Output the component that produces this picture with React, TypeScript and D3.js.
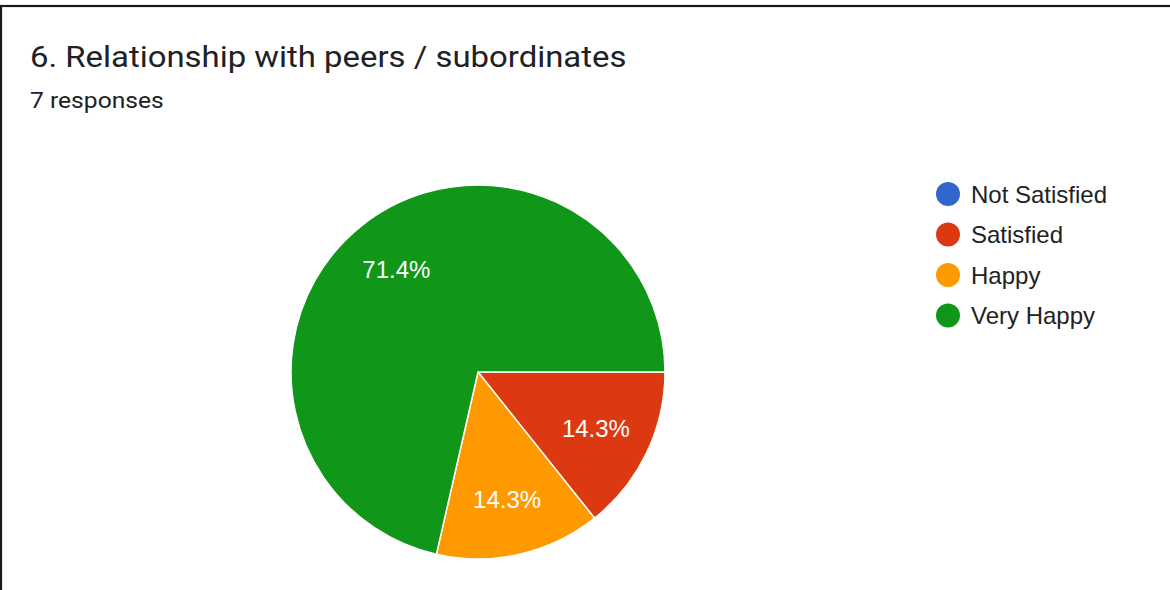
import React from "react";
import * as d3 from "d3";

const categories = ["Not Satisfied", "Satisfied", "Happy", "Very Happy"];
const counts = [0, 1, 1, 5];
const colors = ["#3366cc", "#dc3912", "#ff9900", "#109618"];
const title = "6. Relationship with peers / subordinates";
const subtitle = "7 responses";

const W = 1170;
const H = 590;

export default function App() {
  const cx = 478;
  const cy = 372;
  const r = 187;
  const total = d3.sum(counts);
  const pie = d3
    .pie<number>()
    .sort(null)
    .value((d) => d)
    .startAngle(Math.PI / 2)
    .endAngle(Math.PI / 2 + 2 * Math.PI);
  const arcs = pie(counts);
  const arcGen = d3.arc<d3.PieArcDatum<number>>().innerRadius(0).outerRadius(r);
  const labelArc = d3
    .arc<d3.PieArcDatum<number>>()
    .innerRadius(r * 0.7)
    .outerRadius(r * 0.7);
  const legendY = d3.scaleLinear().domain([0, 1]).range([194, 234.5]);
  const font = "Roboto, 'Noto Sans', Arial, sans-serif";
  const arial = "'Liberation Sans', Arial, sans-serif";

  return (
    <div style={{ position: "absolute", left: 0, top: 0, width: W, height: H }}>
      <svg width={W} height={H} style={{ display: "block" }}>
        <rect x={0} y={0} width={W} height={H} fill="#fff" />
        <rect x={1} y={6} width={W + 20} height={H + 20} fill="none" stroke="#1a1a1a" strokeWidth={2.2} />
        <g transform="translate(30,67) scale(1.135,1)">
          <text x={0} y={0} fontFamily={font} fontSize={29} fill="#202124">
            {title}
          </text>
        </g>
        <g transform="translate(30,108) scale(1.12,1)">
          <text x={0} y={0} fontFamily={font} fontSize={22} fill="#202124">
            {subtitle}
          </text>
        </g>
        <g transform={`translate(${cx},${cy})`}>
          {arcs.map((a, i) =>
            a.value > 0 ? (
              <path key={i} d={arcGen(a) || ""} fill={colors[i]} stroke="#fff" strokeWidth={1.5} />
            ) : null
          )}
          {arcs.map((a, i) => {
            if (a.value <= 0) return null;
            const [x, y] = labelArc.centroid(a);
            return (
              <text
                key={"l" + i}
                x={x}
                y={y}
                dy="0.36em"
                textAnchor="middle"
                fontFamily={arial}
                fontSize={24}
                fill="#fff"
              >
                {((a.value / total) * 100).toFixed(1) + "%"}
              </text>
            );
          })}
        </g>
        {categories.map((c, i) => (
          <g key={c} transform={`translate(0,${legendY(i)})`}>
            <circle cx={948} cy={0} r={12} fill={colors[i]} />
            <text x={971} y={0} dy="0.36em" fontFamily={arial} fontSize={24} fill="#222">
              {c}
            </text>
          </g>
        ))}
      </svg>
    </div>
  );
}
